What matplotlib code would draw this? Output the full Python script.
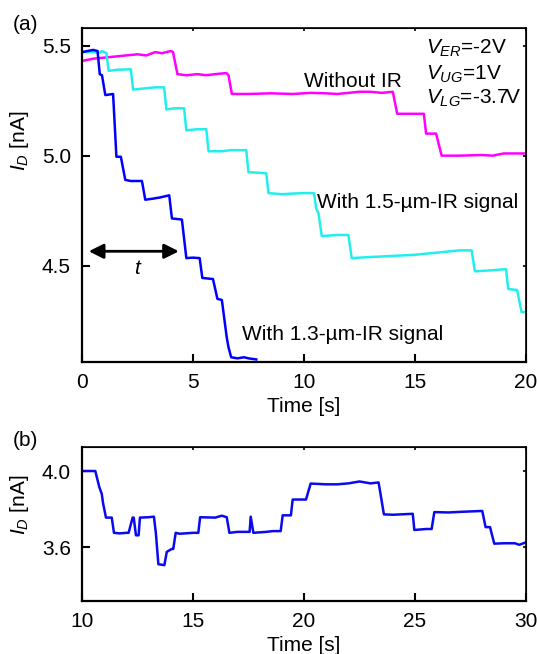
import numpy as np
import matplotlib.pyplot as plt

plt.rcParams['font.family'] = ['Liberation Sans', 'DejaVu Sans']
plt.rcParams['mathtext.fontset'] = 'custom'
plt.rcParams['mathtext.rm'] = 'Liberation Sans'
plt.rcParams['mathtext.it'] = 'Liberation Sans:italic'

# ---- (a) curvas I_D(t), vertices ----
t_noir = [0, 0.5, 1.0, 1.5, 2.0, 2.5, 2.9, 3.3, 3.6, 4.0, 4.1, 4.3, 4.7, 5.2, 5.6, 6.0,
          6.5, 6.6, 6.75, 7.5, 8.5, 9.5, 10.3, 11.0, 11.5, 12.0, 12.5, 13.0, 13.5, 14.0,
          14.2, 15.0, 15.4, 15.5, 15.95, 16.2, 17.0, 18.0, 18.5, 19.0, 20.0]
i_noir = [5.43, 5.44, 5.445, 5.45, 5.455, 5.46, 5.455, 5.47, 5.465, 5.475, 5.47, 5.37,
          5.365, 5.37, 5.365, 5.37, 5.375, 5.365, 5.28, 5.28, 5.283, 5.28, 5.285, 5.283,
          5.28, 5.285, 5.29, 5.29, 5.285, 5.29, 5.19, 5.19, 5.19, 5.10, 5.10, 5.0, 5.0,
          5.003, 5.0, 5.01, 5.01]

t_15 = [0, 0.4, 0.8, 0.9, 1.1, 1.2, 1.6, 2.2, 2.3, 2.8, 3.3, 3.7, 3.8, 4.2, 4.6, 4.7,
        5.2, 5.6, 5.7, 6.3, 6.7, 7.0, 7.4, 7.5, 8.0, 8.3, 8.4, 9.0, 9.5, 10.0, 10.45,
        10.55, 10.65, 10.8, 11.5, 12.0, 12.15, 13.0, 14.0, 15.0, 16.0, 17.0, 17.55,
        17.7, 18.5, 19.1, 19.2, 19.6, 19.8, 20.0]
i_15 = [5.47, 5.47, 5.468, 5.475, 5.465, 5.385, 5.39, 5.392, 5.30, 5.305, 5.31, 5.31,
        5.21, 5.215, 5.215, 5.115, 5.12, 5.12, 5.02, 5.02, 5.025, 5.025, 5.025, 4.925,
        4.922, 4.92, 4.83, 4.825, 4.828, 4.83, 4.83, 4.76, 4.74, 4.635, 4.64, 4.64,
        4.535, 4.54, 4.545, 4.55, 4.56, 4.57, 4.57, 4.475, 4.48, 4.485, 4.395, 4.39,
        4.29, 4.29]

t_13 = [0, 0.5, 0.7, 0.8, 0.9, 0.95, 1.05, 1.4, 1.55, 1.75, 1.95, 2.2, 2.7, 2.85, 3.2,
        3.5, 3.93, 4.05, 4.5, 4.7, 5.0, 5.3, 5.42, 5.9, 6.1, 6.3, 6.52, 6.6, 6.72, 7.0,
        7.3, 7.5, 7.85]
i_13 = [5.47, 5.48, 5.475, 5.37, 5.365, 5.335, 5.275, 5.28, 4.995, 4.995, 4.89, 4.885,
        4.885, 4.80, 4.805, 4.81, 4.82, 4.715, 4.71, 4.535, 4.537, 4.535, 4.445, 4.44,
        4.35, 4.345, 4.175, 4.13, 4.085, 4.08, 4.085, 4.08, 4.075]

# ---- (b) ----
t_b = [10.0, 10.3, 10.6, 10.78, 10.89, 10.95, 11.08, 11.34, 11.44, 11.7, 12.0, 12.1,
       12.28, 12.33, 12.43, 12.55, 12.61, 13.0, 13.24, 13.33, 13.44, 13.71, 13.82,
       14.04, 14.11, 14.22, 14.4, 15.0, 15.24, 15.32, 16.0, 16.3, 16.52, 16.64, 17.0,
       17.55, 17.6, 17.72, 18.3, 18.6, 18.95, 19.04, 19.41, 19.49, 20.09, 20.3, 21.0,
       21.5, 22.0, 22.5, 23.0, 23.36, 23.6, 24.0, 24.9, 24.97, 25.5, 25.75, 25.87,
       26.5, 27.0, 28.03, 28.18, 28.38, 28.57, 29.0, 29.5, 29.7, 30.0]
i_b = [4.0, 4.0, 4.0, 3.915, 3.88, 3.83, 3.755, 3.755, 3.675, 3.672, 3.675, 3.675,
       3.755, 3.755, 3.662, 3.662, 3.755, 3.757, 3.76, 3.67, 3.51, 3.505, 3.575, 3.59,
       3.59, 3.675, 3.67, 3.675, 3.675, 3.757, 3.755, 3.765, 3.757, 3.675, 3.68, 3.68,
       3.76, 3.675, 3.68, 3.684, 3.684, 3.767, 3.767, 3.85, 3.85, 3.934, 3.93, 3.93,
       3.935, 3.945, 3.935, 3.94, 3.772, 3.77, 3.775, 3.69, 3.695, 3.695, 3.784, 3.782,
       3.785, 3.79, 3.705, 3.705, 3.618, 3.62, 3.62, 3.612, 3.625]

xt_a = [0, 5, 10, 15, 20]
yt_a = [4.5, 5.0, 5.5]
xt_b = [10, 15, 20, 25, 30]
yt_b = [3.6, 4.0]

fig = plt.figure(figsize=(5.37, 6.54), dpi=100)
ax1 = fig.add_axes([0.1527, 0.447, 0.8268, 0.5097])
ax2 = fig.add_axes([0.1527, 0.0815, 0.8268, 0.2355])

ax1.plot(t_noir, i_noir, color='#ff00ff', lw=1.8)
ax1.plot(t_15, i_15, color='#22eeee', lw=1.8)
ax1.plot(t_13, i_13, color='#0000ff', lw=1.8)
ax2.plot(t_b, i_b, color='#0a0aee', lw=1.8)

ax1.set_xlim(0, 20)
ax1.set_ylim(4.065, 5.578)
ax2.set_xlim(10, 30)
ax2.set_ylim(3.318, 4.128)

for ax, xt, yt in [(ax1, xt_a, yt_a), (ax2, xt_b, yt_b)]:
    ax.set_xticks(xt)
    ax.set_yticks(yt)
    ax.set_yticklabels(['%.1f' % v for v in yt])
    ax.tick_params(direction='in', length=6, width=1.5, labelsize=15, pad=8)
    for s in ['left', 'bottom']:
        ax.spines[s].set_linewidth(1.6)
    for s in ['top', 'right']:
        ax.spines[s].set_linewidth(1.2)
    sx = ax.secondary_xaxis('top')
    sx.set_xticks(xt)
    sx.tick_params(direction='in', length=2, width=1.2, labeltop=False)
    sy = ax.secondary_yaxis('right')
    sy.set_yticks(yt)
    sy.tick_params(direction='in', length=2, width=1.2, labelright=False)
    ax.set_xlabel('Time [s]', fontsize=15, labelpad=4)
    ax.set_ylabel(r'$I_D$ [nA]', fontsize=15)

ax1.yaxis.set_label_coords(-0.115, 0.662)
ax2.yaxis.set_label_coords(-0.115, 0.621)

# ---- textos (a) ----
ax1.text(10.0, 5.335, 'Without IR', fontsize=15, va='center')
ax1.text(10.6, 4.789, 'With 1.5-µm-IR signal', fontsize=15, va='center')
ax1.text(7.19, 4.19, 'With 1.3-µm-IR signal', fontsize=15, va='center')
ax1.text(15.5, 5.486, r'$V_{ER}$=-2V', fontsize=15, va='center')
ax1.text(15.5, 5.37, r'$V_{UG}$=1V', fontsize=15, va='center')
ax1.text(15.5, 5.26, r'$V_{LG}$=-3.7V', fontsize=15, va='center')

ax1.annotate('', xy=(4.49, 4.566), xytext=(0.18, 4.566),
             arrowprops=dict(arrowstyle='<|-|>', color='black', lw=2, mutation_scale=22))
ax1.text(2.46, 4.488, 't', fontsize=15, style='italic', ha='center', va='center')

fig.text(13 / 537, 1 - 25 / 654, '(a)', fontsize=15, va='center')
fig.text(13 / 537, 1 - 441 / 654, '(b)', fontsize=15, va='center')

fig.savefig('out.png', dpi=100)
